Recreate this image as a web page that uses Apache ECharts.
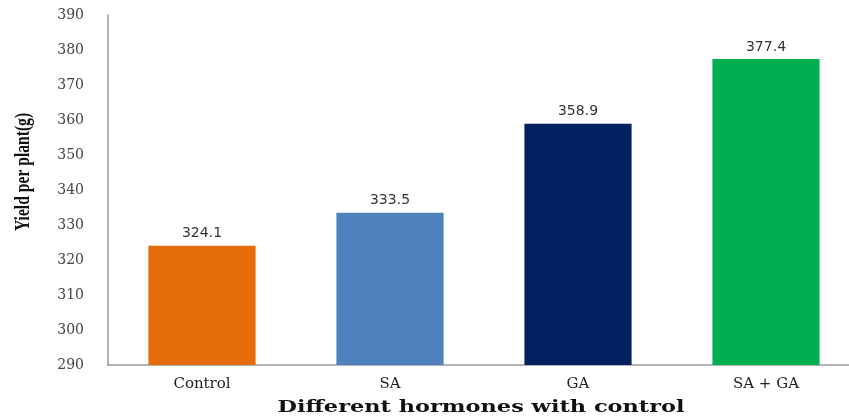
<!DOCTYPE html>
<html>
<head>
<meta charset="utf-8">
<script src="https://cdn.jsdelivr.net/npm/echarts@6/dist/echarts.min.js"></script>
<style>
  html, body { margin: 0; padding: 0; background: #ffffff; }
  #chart { width: 849px; height: 417px; }
</style>
</head>
<body>
<div id="chart"></div>
<script>
// Yield per plant under different hormone treatments
const categories = ['Control', 'SA', 'GA', 'SA + GA'];
const yieldValues = [324.1, 333.5, 358.9, 377.4];
const barColors = ['#E46C0A', '#4F81BD', '#002060', '#00B050'];
const yMin = 290, yMax = 390, yStep = 10;
const xTitle = 'Different hormones with control';
const yTitle = 'Yield per plant(g)';

const chart = echarts.init(document.getElementById('chart'));
chart.setOption({
  animation: false,
  grid: { left: 108, top: 15, width: 752, height: 350, outerBoundsMode: 'none', containLabel: false },
  xAxis: {
    type: 'category',
    data: categories,
    axisLine: { lineStyle: { color: '#9a9a9a', width: 1.5 } },
    axisTick: { show: false },
    axisLabel: { fontFamily: 'DejaVu Serif', fontSize: 15, color: '#222', margin: 12 }
  },
  yAxis: {
    type: 'value',
    min: yMin, max: yMax, interval: yStep,
    axisLine: { show: true, lineStyle: { color: '#9a9a9a', width: 1.5 } },
    axisTick: { show: false },
    splitLine: { show: false },
    axisLabel: { fontFamily: 'DejaVu Serif', fontSize: 14, color: '#444', margin: 24 }
  },
  // Axis titles: wide bold caption under the axis, condensed bold caption on the left
  graphic: [
    {
      type: 'text',
      x: 481, y: 408,
      scaleX: 1.32,
      style: {
        text: xTitle,
        font: 'bold 17px "DejaVu Serif"',
        fill: '#111',
        textAlign: 'center',
        textVerticalAlign: 'middle'
      }
    },
    {
      type: 'text',
      x: 24, y: 172,
      rotation: Math.PI / 2,
      scaleX: 0.78,
      style: {
        text: yTitle,
        font: 'bold 20px "Liberation Serif"',
        fill: '#111',
        textAlign: 'center',
        textVerticalAlign: 'middle'
      }
    }
  ],
  series: [{
    type: 'bar',
    barWidth: '57%',
    data: yieldValues.map((v, i) => ({ value: v, itemStyle: { color: barColors[i] } })),
    label: {
      show: true,
      position: 'top',
      distance: 5,
      fontFamily: 'DejaVu Sans',
      fontSize: 14,
      color: '#333',
      formatter: p => p.value.toFixed(1)
    }
  }]
});
</script>
</body>
</html>
